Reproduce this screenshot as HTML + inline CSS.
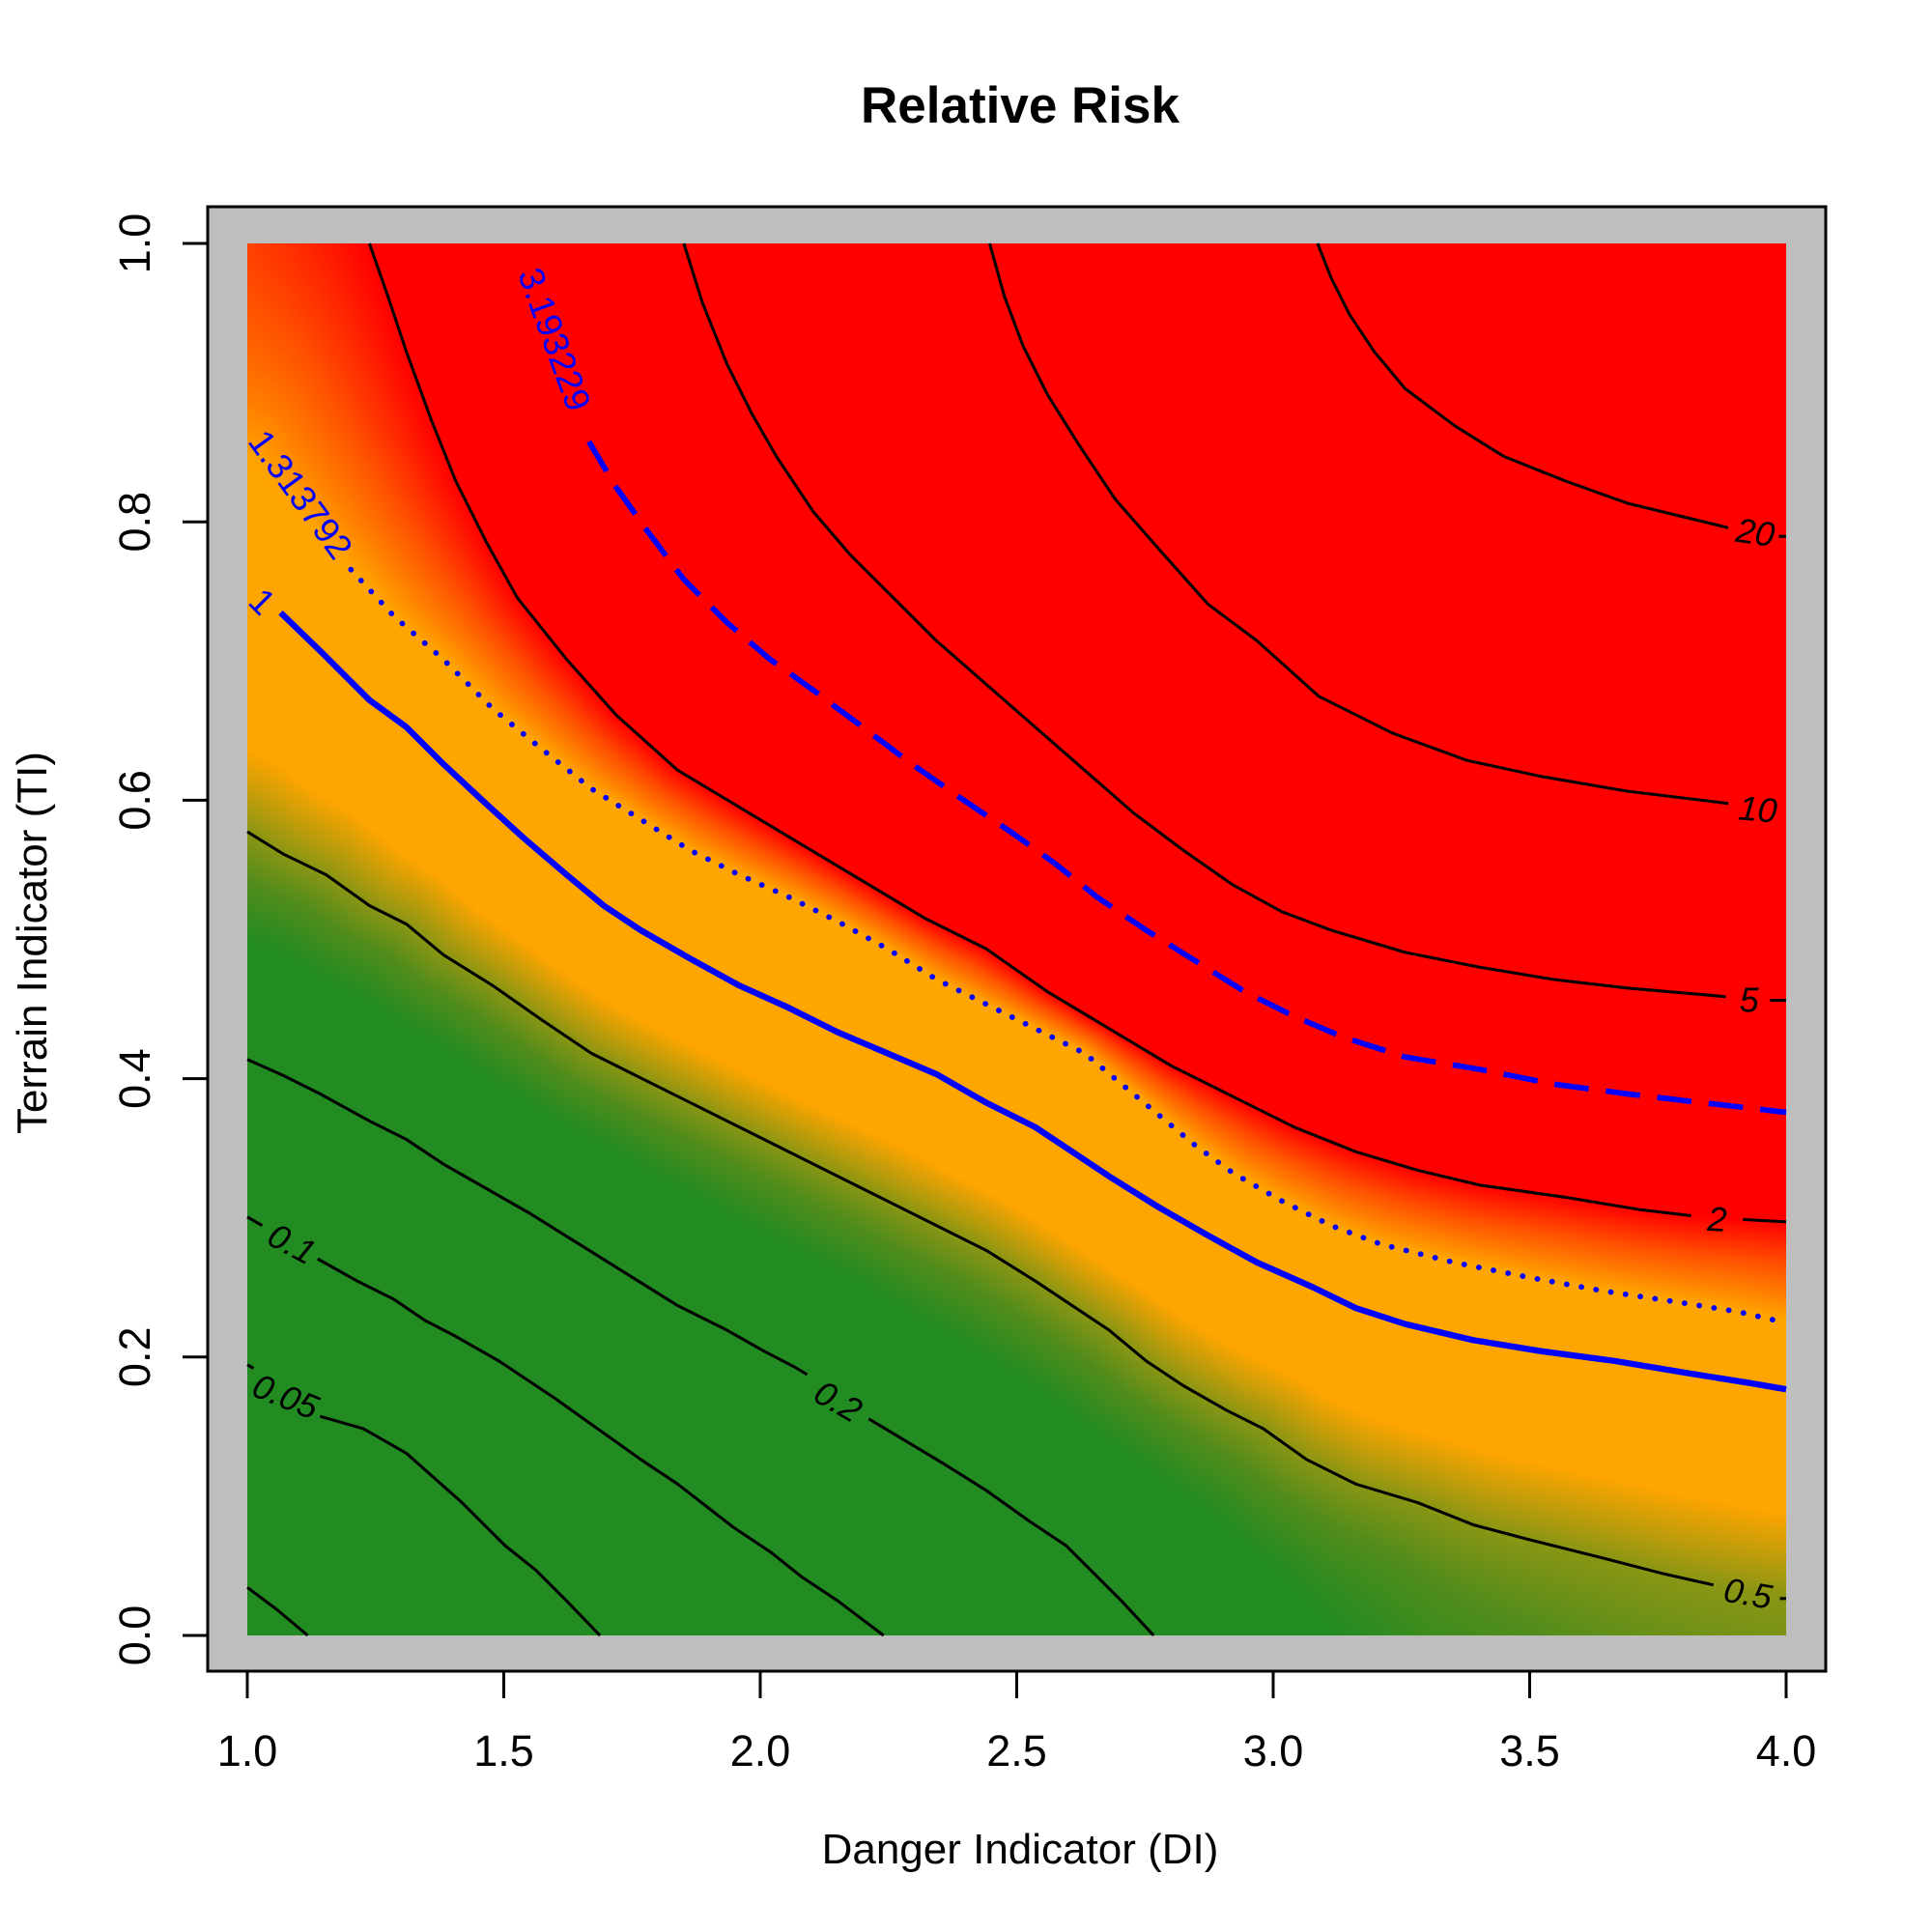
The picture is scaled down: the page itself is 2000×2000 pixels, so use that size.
<!DOCTYPE html>
<html><head><meta charset="utf-8">
<style>
html,body{margin:0;padding:0;background:#fff;}
#wrap{position:relative;width:2000px;height:2000px;overflow:hidden;font-family:"Liberation Sans",Arial,sans-serif;}
#cv{position:absolute;left:256px;top:252px;width:1593px;height:1441px;}
svg{position:absolute;left:0;top:0;}
</style></head><body>
<div id="wrap">
<svg width="2000" height="2000" viewBox="0 0 2000 2000">
<rect x="215" y="214" width="1675" height="1516" fill="#bebebe"/>
</svg>
<canvas id="cv" width="624" height="566"></canvas>
<svg id="ov" width="2000" height="2000" viewBox="0 0 2000 2000">
<rect x="215" y="214" width="1675" height="1516" fill="none" stroke="#000" stroke-width="3"/>
<g stroke="#000" stroke-width="3">
<line x1="256" y1="1730" x2="256" y2="1758"/><line x1="521.5" y1="1730" x2="521.5" y2="1758"/><line x1="787" y1="1730" x2="787" y2="1758"/><line x1="1052.5" y1="1730" x2="1052.5" y2="1758"/><line x1="1318" y1="1730" x2="1318" y2="1758"/><line x1="1583.5" y1="1730" x2="1583.5" y2="1758"/><line x1="1849" y1="1730" x2="1849" y2="1758"/>
<line x1="215" y1="252" x2="189" y2="252"/><line x1="215" y1="540.2" x2="189" y2="540.2"/><line x1="215" y1="828.4" x2="189" y2="828.4"/><line x1="215" y1="1116.6" x2="189" y2="1116.6"/><line x1="215" y1="1404.8" x2="189" y2="1404.8"/><line x1="215" y1="1693" x2="189" y2="1693"/>
</g>
<g font-size="45" text-anchor="middle" fill="#000">
<text x="256" y="1828">1.0</text><text x="521.5" y="1828">1.5</text><text x="787" y="1828">2.0</text><text x="1052.5" y="1828">2.5</text><text x="1318" y="1828">3.0</text><text x="1583.5" y="1828">3.5</text><text x="1849" y="1828">4.0</text>
<text transform="translate(155,252) rotate(-90)">1.0</text>
<text transform="translate(155,540.2) rotate(-90)">0.8</text>
<text transform="translate(155,828.4) rotate(-90)">0.6</text>
<text transform="translate(155,1116.6) rotate(-90)">0.4</text>
<text transform="translate(155,1404.8) rotate(-90)">0.2</text>
<text transform="translate(155,1693) rotate(-90)">0.0</text>
<text x="1056" y="1929" font-size="44">Danger Indicator (DI)</text>
<text transform="translate(48,976) rotate(-90)" font-size="44">Terrain Indicator (TI)</text>
<text x="1056" y="127" font-weight="bold" font-size="53">Relative Risk</text>
</g>
<g id="cl" transform="matrix(1.2764 0 0 1.2741 -0.5 1)" fill="none" stroke-linejoin="round"></g>
</svg>
</div>
<script>
var C=[
 {v:0.02,t:'b',p:[[201,1289],[225,1307],[250,1328]]},
 {v:0.05,t:'b',p:[[201,1108],[215,1118],[260,1150],[295,1160],[330,1180],[375,1220],[410,1255],[435,1275],[460,1300],[487,1328]],draw:[[[201,1108],[206,1111]],[[260,1150],[295,1160],[330,1180],[375,1220],[410,1255],[435,1275],[460,1300],[487,1328]]]},
 {v:0.1,t:'b',p:[[201,988],[213,995],[258,1022],[290,1040],[320,1055],[345,1072],[370,1085],[405,1105],[450,1135],[485,1160],[520,1185],[550,1205],[595,1240],[625,1260],[650,1280],[680,1300],[717,1328]],draw:[[[201,988],[213,995]],[[258,1022],[290,1040],[320,1055],[345,1072],[370,1085],[405,1105],[450,1135],[485,1160],[520,1185],[550,1205],[595,1240],[625,1260],[650,1280],[680,1300],[717,1328]]]},
 {v:0.2,t:'b',p:[[201,860],[230,873],[260,888],[300,910],[330,925],[360,945],[395,965],[430,985],[470,1010],[510,1035],[550,1060],[590,1080],[620,1097],[645,1110],[705,1155],[735,1170],[765,1188],[800,1210],[835,1235],[865,1255],[885,1275],[910,1300],[936,1328]],draw:[[[201,860],[230,873],[260,888],[300,910],[330,925],[360,945],[395,965],[430,985],[470,1010],[510,1035],[550,1060],[590,1080],[620,1097],[645,1110],[655,1116]],[[705,1152],[735,1170],[765,1188],[800,1210],[835,1235],[865,1255],[885,1275],[910,1300],[936,1328]]]},
 {v:0.5,t:'f',p:[[201,675],[230,693],[265,710],[300,735],[330,750],[360,775],[400,800],[440,828],[480,855],[520,875],[560,895],[600,915],[640,935],[680,955],[720,975],[760,995],[800,1015],[840,1040],[870,1060],[900,1080],[930,1105],[960,1125],[995,1145],[1025,1160],[1060,1185],[1100,1205],[1150,1220],[1195,1238],[1240,1250],[1300,1265],[1350,1278],[1390,1287],[1449,1298]],draw:[[[201,675],[230,693],[265,710],[300,735],[330,750],[360,775],[400,800],[440,828],[480,855],[520,875],[560,895],[600,915],[640,935],[680,955],[720,975],[760,995],[800,1015],[840,1040],[870,1060],[900,1080],[930,1105],[960,1125],[995,1145],[1025,1160],[1060,1185],[1100,1205],[1150,1220],[1195,1238],[1240,1250],[1300,1265],[1350,1278],[1390,1287]],[[1444,1298],[1449,1298]]]},
 {v:1,t:'f',blue:1,sw:5,p:[[201,470],[228,497],[262,530],[300,568],[330,590],[360,620],[390,648],[425,680],[460,710],[490,735],[520,755],[560,778],[600,800],[640,818],[680,838],[720,855],[760,872],[800,895],[840,915],[870,935],[900,955],[940,980],[980,1003],[1020,1025],[1065,1045],[1100,1062],[1140,1075],[1195,1088],[1250,1097],[1310,1105],[1370,1115],[1420,1123],[1449,1128]],from:1},
 {v:1.313792,t:'f',blue:1,sw:4.5,dash:'0.1 12',p:[[201,372],[285,462],[320,500],[360,535],[400,575],[440,608],[480,640],[520,665],[560,690],[600,710],[640,728],[680,748],[720,770],[760,795],[800,815],[840,835],[880,855],[910,880],[940,905],[970,930],[1000,952],[1040,975],[1080,995],[1120,1010],[1180,1025],[1240,1037],[1300,1048],[1360,1057],[1410,1065],[1449,1074]],from:1},
 {v:2,t:'t',p:[[300,197],[315,240],[330,285],[350,340],[370,390],[395,440],[420,485],[460,535],[500,580],[550,625],[600,655],[650,685],[700,715],[750,745],[800,770],[850,805],[900,835],[950,865],[1000,890],[1050,915],[1100,935],[1150,950],[1200,962],[1270,972],[1330,982],[1372,987],[1449,992]],draw:[[[300,197],[315,240],[330,285],[350,340],[370,390],[395,440],[420,485],[460,535],[500,580],[550,625],[600,655],[650,685],[700,715],[750,745],[800,770],[850,805],[900,835],[950,865],[1000,890],[1050,915],[1100,935],[1150,950],[1200,962],[1270,972],[1330,982],[1372,987]],[[1414,990],[1449,992]]]},
 {v:3.193229,t:'t',blue:1,sw:4.5,dash:'28 14',p:[[420,197],[450,280],[478,358],[500,395],[525,430],[555,470],[590,505],[625,535],[660,560],[700,590],[740,620],[780,648],[820,675],[855,700],[890,728],[930,755],[970,780],[1010,805],[1050,825],[1090,842],[1140,858],[1200,868],[1260,880],[1320,888],[1380,895],[1449,903]],from:2},
 {v:5,t:'t',p:[[555,197],[570,245],[590,295],[610,335],[630,370],[660,415],[690,450],[720,480],[760,520],[800,555],[840,590],[880,625],[920,660],[960,690],[1000,718],[1040,740],[1080,755],[1140,773],[1200,785],[1260,795],[1320,802],[1390,808],[1449,812]],draw:[[[555,197],[570,245],[590,295],[610,335],[630,370],[660,415],[690,450],[720,480],[760,520],[800,555],[840,590],[880,625],[920,660],[960,690],[1000,718],[1040,740],[1080,755],[1140,773],[1200,785],[1260,795],[1320,802],[1400,809]],[[1436,812],[1449,812]]]},
 {v:10,t:'t',p:[[803,197],[815,240],[830,280],[850,320],[875,360],[905,405],[940,445],[980,490],[1020,520],[1070,565],[1130,595],[1190,617],[1250,630],[1320,642],[1402,652],[1449,658]],draw:[[[803,197],[815,240],[830,280],[850,320],[875,360],[905,405],[940,445],[980,490],[1020,520],[1070,565],[1130,595],[1190,617],[1250,630],[1320,642],[1402,652]]]},
 {v:20,t:'t',p:[[1069,197],[1080,225],[1095,255],[1115,285],[1140,315],[1180,345],[1220,370],[1270,390],[1320,408],[1402,428],[1449,436]],draw:[[[1069,197],[1080,225],[1095,255],[1115,285],[1140,315],[1180,345],[1220,370],[1270,390],[1320,408],[1402,428]],[[1443,435],[1449,435]]]}
];
C.forEach(function(c){c.lv=Math.log(c.v)/Math.LN10;});
function cy(c,x){var p=c.p;if(x<p[0][0]){return c.t=='t'?-1e9:p[0][1];}
 if(x>p[p.length-1][0]){return c.t=='b'?1e9:p[p.length-1][1];}
 for(var i=1;i<p.length;i++){if(x<=p[i][0]){var a=p[i-1],b=p[i];var t=(x-a[0])/((b[0]-a[0])||1);return a[1]+t*(b[1]-a[1]);}}return p[p.length-1][1];}
function dist(c,x,y){var p=c.p,m=1e18;for(var i=1;i<p.length;i++){var ax=p[i-1][0],ay=p[i-1][1],bx=p[i][0],by=p[i][1];var dx=bx-ax,dy=by-ay;var L=dx*dx+dy*dy;var t=L?((x-ax)*dx+(y-ay)*dy)/L:0;t=t<0?0:t>1?1:t;var ex=ax+t*dx-x,ey=ay+t*dy-y;var d=ex*ex+ey*ey;if(d<m)m=d;}return Math.sqrt(m);}
var S=[[-0.48,[34,139,34]],[-0.38,[80,140,28]],[-0.3,[140,150,20]],[-0.18,[255,165,0]],[0.12,[255,165,0]],[0.22,[255,80,0]],[0.3,[255,0,0]]];
function col(v){if(v<=S[0][0])return S[0][1];for(var i=1;i<S.length;i++){if(v<=S[i][0]){var a=S[i-1],b=S[i];var t=(v-a[0])/(b[0]-a[0]);return [a[1][0]+t*(b[1][0]-a[1][0]),a[1][1]+t*(b[1][1]-a[1][1]),a[1][2]+t*(b[1][2]-a[1][2])];}}return S[S.length-1][1];}
var cv=document.getElementById('cv'),ctx=cv.getContext('2d');var W=624,H=566;var im=ctx.createImageData(W,H);var d=im.data;
for(var i=0;i<W;i++){var x=201+(i+0.5)*2;var ys=C.map(function(c){return cy(c,x);});
 for(var j=0;j<H;j++){var y=197+(j+0.5)*2;var lo=-1;for(var k=0;k<C.length;k++){if(y<ys[k])lo=k;}
  var v;if(lo<0)v=-2;else if(lo==C.length-1)v=C[lo].lv;else{var da=dist(C[lo],x,y),db=dist(C[lo+1],x,y);v=C[lo].lv+(C[lo+1].lv-C[lo].lv)*da/(da+db+1e-9);}
  var c=col(v);var o=(j*W+i)*4;d[o]=c[0];d[o+1]=c[1];d[o+2]=c[2];d[o+3]=255;}}
ctx.putImageData(im,0,0);
var g=document.getElementById('cl');var NS='http://www.w3.org/2000/svg';
function pl(pts,stroke,sw,dash){var e=document.createElementNS(NS,'polyline');e.setAttribute('points',pts.map(function(q){return q.join(',');}).join(' '));e.setAttribute('stroke',stroke);e.setAttribute('stroke-width',sw);e.setAttribute('fill','none');if(dash){e.setAttribute('stroke-dasharray',dash);e.setAttribute('stroke-linecap',dash.indexOf('0.1')==0?'round':'butt');}g.appendChild(e);}
C.forEach(function(c){if(c.blue){pl(c.p.slice(c.from),'#0000ff',c.sw,c.dash);}else{(c.draw||[c.p]).forEach(function(s){pl(s,'#000',2.4);});}});
function tx(s,x,y,rot,fill,it,fs){var e=document.createElementNS(NS,'text');e.textContent=s;e.setAttribute('transform','translate('+x+','+y+') rotate('+rot+')');e.setAttribute('fill',fill);e.setAttribute('font-size',fs||28);e.setAttribute('stroke','none');e.setAttribute('text-anchor','middle');e.setAttribute('dominant-baseline','central');e.setAttribute('font-family','Liberation Sans, Arial, sans-serif');if(it)e.setAttribute('font-style','italic');g.appendChild(e);}
tx('0.05',232,1134,22,'#000',1);tx('0.1',237,1010,28,'#000',1);tx('0.2',680,1138,30,'#000',1);tx('0.5',1418,1294,10,'#000',1);
tx('2',1393,990,3,'#000',1);tx('5',1419,812,0,'#000',1);tx('10',1426,657,5,'#000',1);tx('20',1424,432,8,'#000',1);
tx('1',213,488,45,'#0000ff',0,29);tx('1.313792',244,401,54,'#0000ff',0,29);tx('3.193229',450,275,70,'#0000ff',0,29);
</script>
</body></html>
